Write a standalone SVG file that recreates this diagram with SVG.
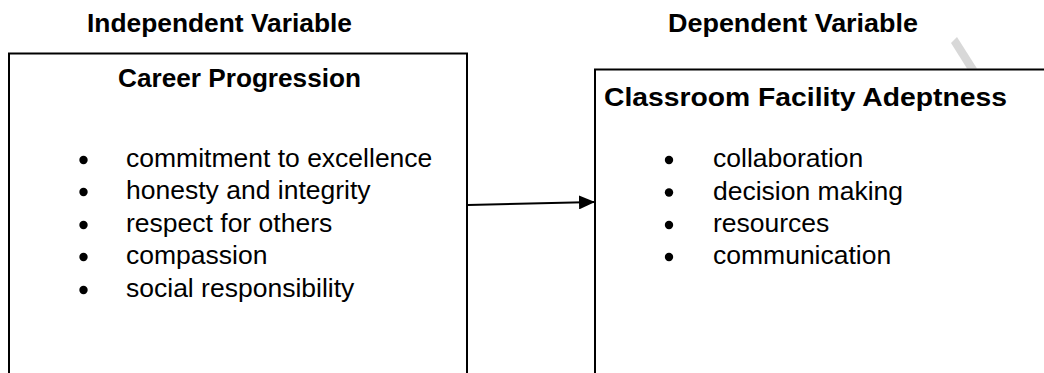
<svg xmlns="http://www.w3.org/2000/svg" width="1044" height="373" viewBox="0 0 1044 373">
<style>
.box{fill:#fff;stroke:#000;stroke-width:2}
.hd{font-family:"Liberation Sans",Arial,sans-serif;font-weight:bold;font-size:26px;fill:#000}
.it{font-family:"Liberation Sans",Arial,sans-serif;font-size:26.5px;fill:#000}
.bl{fill:#000}
.cn{stroke:#000;stroke-width:2;fill:none}
</style>
<defs>
<marker id="ah" viewBox="0 0 16 14" refX="16" refY="7" markerWidth="16" markerHeight="14" markerUnits="userSpaceOnUse" orient="auto">
<path d="M0,0 L16,7 L0,14 Z" fill="#000"/>
</marker>
</defs>
<rect width="1044" height="373" fill="#fff"/>
<polygon points="951,43 957,37 977,68.5 967,68.5" fill="#d8d8d8"/>
<text class="hd" x="87" y="32" textLength="265" lengthAdjust="spacingAndGlyphs">Independent Variable</text>
<text class="hd" x="668" y="32" textLength="250" lengthAdjust="spacingAndGlyphs">Dependent Variable</text>
<g id="career-progression">
<rect class="box" x="9" y="53.5" width="458" height="340"/>
<text class="hd" x="118" y="87" textLength="243" lengthAdjust="spacingAndGlyphs">Career Progression</text>
<circle class="bl" cx="83.5" cy="160" r="4.2"/>
<circle class="bl" cx="83.5" cy="192" r="4.2"/>
<circle class="bl" cx="83.5" cy="225" r="4.2"/>
<circle class="bl" cx="83.5" cy="257" r="4.2"/>
<circle class="bl" cx="83.5" cy="290" r="4.2"/>
<text class="it" x="126" y="167">commitment to excellence</text>
<text class="it" x="126" y="199">honesty and integrity</text>
<text class="it" x="126" y="232">respect for others</text>
<text class="it" x="126" y="264">compassion</text>
<text class="it" x="126" y="297">social responsibility</text>
</g>
<g id="classroom-facility-adeptness">
<rect class="box" x="595" y="69.5" width="470" height="330"/>
<text class="hd" x="604" y="106" textLength="403" lengthAdjust="spacingAndGlyphs">Classroom Facility Adeptness</text>
<circle class="bl" cx="669" cy="160" r="4.2"/>
<circle class="bl" cx="669" cy="192.5" r="4.2"/>
<circle class="bl" cx="669" cy="225" r="4.2"/>
<circle class="bl" cx="669" cy="257" r="4.2"/>
<text class="it" x="713" y="167">collaboration</text>
<text class="it" x="713" y="199.5">decision making</text>
<text class="it" x="713" y="232">resources</text>
<text class="it" x="713" y="264">communication</text>
</g>
<g id="connectors">
<line class="cn" x1="468" y1="205" x2="595" y2="202" marker-end="url(#ah)"/>
</g>
</svg>
